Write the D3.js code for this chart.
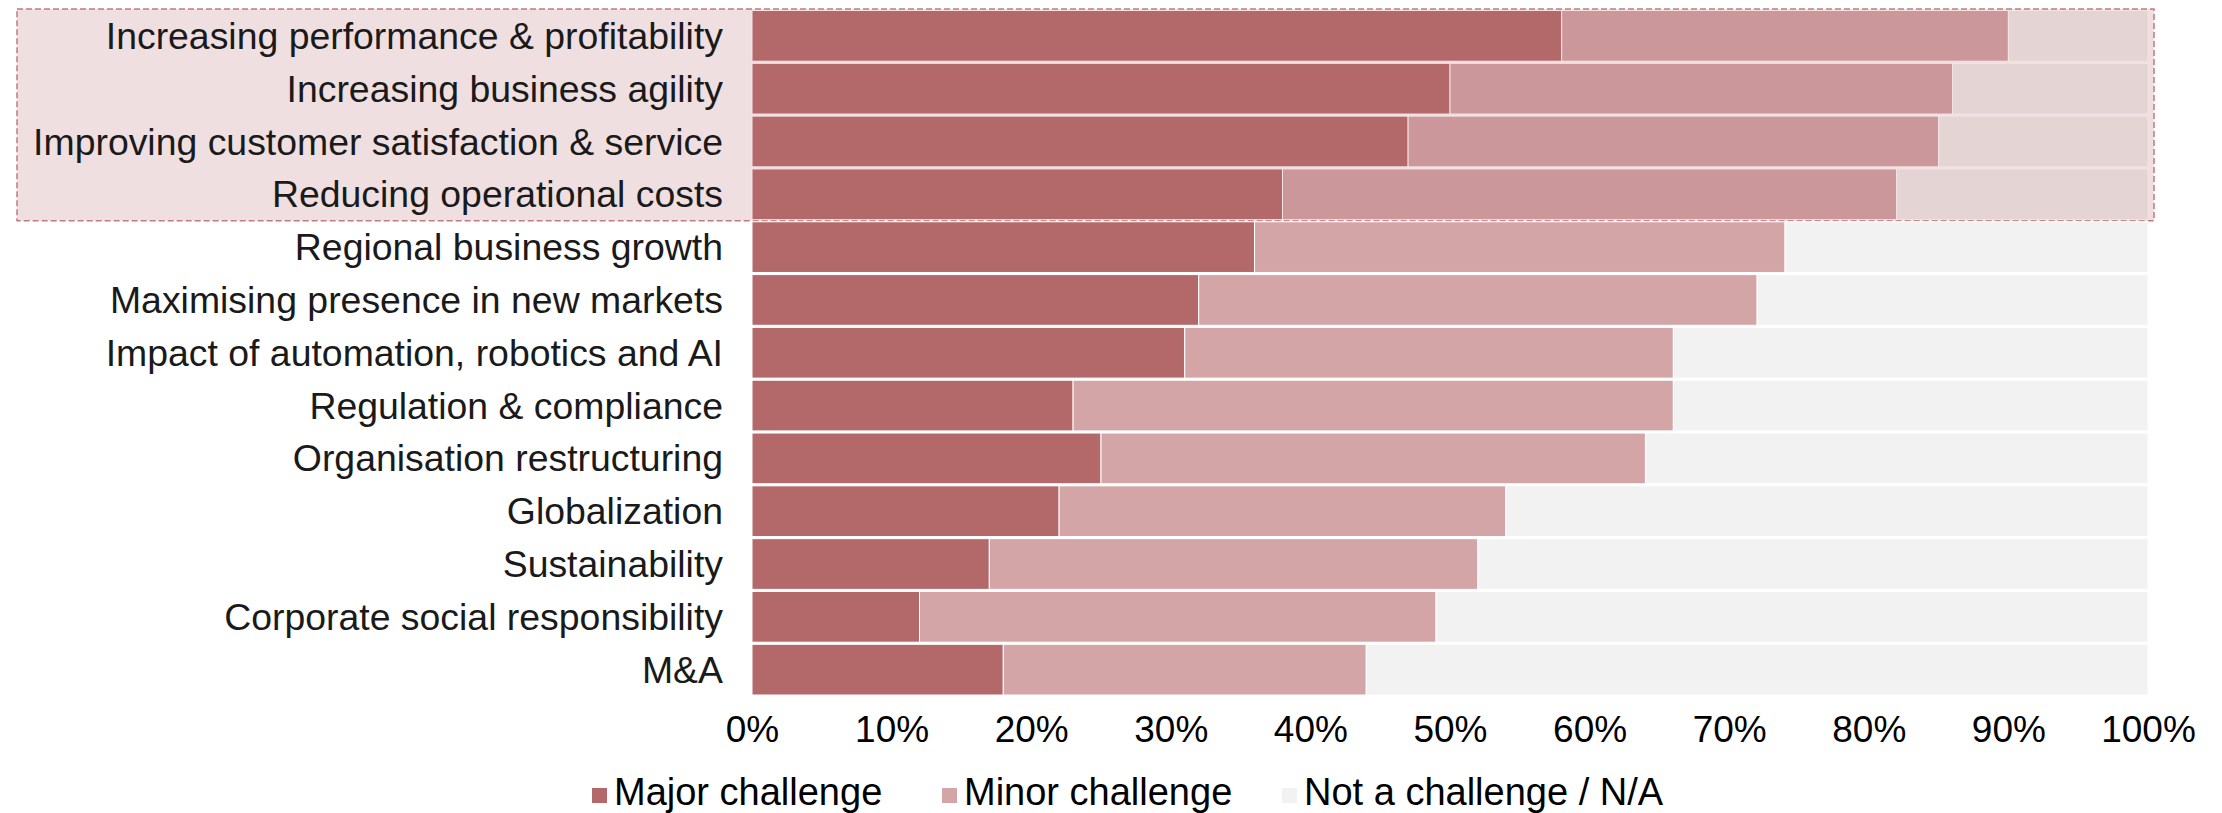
<html>
<script src="https://d3js.org/d3.v7.min.js"></script>
<style>
    body { margin: 0; background: #fff; font-family: 'Liberation Sans', Arial, sans-serif; }
</style>
<body>
<svg id="chart" width="2222" height="813"></svg>
<script>
    // chart values (percent of respondents)
    const categories = [
        "Increasing performance & profitability",
        "Increasing business agility",
        "Improving customer satisfaction & service",
        "Reducing operational costs",
        "Regional business growth",
        "Maximising presence in new markets",
        "Impact of automation, robotics and AI",
        "Regulation & compliance",
        "Organisation restructuring",
        "Globalization",
        "Sustainability",
        "Corporate social responsibility",
        "M&A"
    ];
    const majorChallenge = [58, 50, 47, 38, 36, 32, 31, 23, 25, 22, 17, 12, 18];
    const minorChallenge = [32, 36, 38, 44, 38, 40, 35, 43, 39, 32, 35, 37, 26];
    const notChallenge   = [10, 14, 15, 18, 26, 28, 34, 34, 36, 46, 48, 51, 56];
    const seriesNames = ["Major challenge", "Minor challenge", "Not a challenge / N/A"];
    const xTicks = [0, 10, 20, 30, 40, 50, 60, 70, 80, 90, 100];
    const highlighted = 4; // first four rows sit in the shaded box

    const colors   = ["#b3696a", "#d4a5a7", "#f2f2f2"];
    const hiColors = ["#b3696a", "#cc979a", "#e4d4d4"];

    const svg = d3.select("svg#chart");

    const xScale = d3.scaleLinear().domain([0, 100]).range([752, 2148]);
    const yScale = d3.scaleBand().domain(categories).range([10.5, 695]).paddingInner(0.04);

    // shaded box behind the top rows
    const boxBottom = yScale(categories[highlighted - 1]) + yScale.bandwidth() + 1;
    svg.append("rect")
        .attr("x", 17)
        .attr("y", 9)
        .attr("width", 2154 - 17)
        .attr("height", boxBottom - 9)
        .attr("fill", "#f0dfe0")
        .attr("stroke", "#c27a7e")
        .attr("stroke-width", 1.5)
        .attr("stroke-dasharray", "6,3");

    // build stacked rows
    const rows = categories.map((c, i) => ({
        category: c,
        idx: i,
        values: [majorChallenge[i], minorChallenge[i], notChallenge[i]]
    }));

    const segs = [];
    rows.forEach(r => {
        let start = 0;
        r.values.forEach((v, k) => {
            segs.push({category: r.category, idx: r.idx, series: k, x0: start, x1: start + v});
            start += v;
        });
    });

    svg.append("g").selectAll("rect")
        .data(segs)
        .enter()
        .append("rect")
        .attr("x", d => xScale(d.x0))
        .attr("y", d => yScale(d.category))
        .attr("width", d => xScale(d.x1) - xScale(d.x0))
        .attr("height", yScale.bandwidth())
        .attr("fill", d => d.idx < highlighted ? hiColors[d.series] : colors[d.series])
        .attr("stroke", d => d.idx < highlighted ? "#f3e4e4" : "#fff")
        .attr("stroke-width", 1);

    // category labels
    svg.append("g").selectAll("text")
        .data(categories)
        .enter()
        .append("text")
        .attr("x", 723)
        .attr("y", d => yScale(d) + yScale.bandwidth() / 2)
        .attr("dy", "0.35em")
        .attr("text-anchor", "end")
        .attr("font-size", 37.4)
        .attr("fill", "#1a1a1a")
        .text(d => d);

    // x axis, labels only
    const xAxis = d3.axisBottom(xScale)
        .tickValues(xTicks)
        .tickSize(0)
        .tickPadding(0)
        .tickFormat(d => d + "%");

    const axisG = svg.append("g")
        .attr("transform", "translate(0,716)")
        .call(xAxis);
    axisG.select(".domain").remove();
    axisG.selectAll("text")
        .attr("dy", "0.71em")
        .attr("font-size", 37)
        .attr("font-family", "'Liberation Sans', Arial, sans-serif")
        .attr("fill", "#000");

    // legend
    const legendX = [592, 942, 1282];
    const legend = svg.append("g").selectAll("g")
        .data(seriesNames)
        .enter()
        .append("g")
        .attr("transform", (d, i) => "translate(" + legendX[i] + ",0)");

    legend.append("rect")
        .attr("x", 0)
        .attr("y", 788)
        .attr("width", 15)
        .attr("height", 15)
        .attr("fill", (d, i) => colors[i]);

    legend.append("text")
        .attr("x", 22)
        .attr("y", 805)
        .attr("font-size", 38)
        .attr("fill", "#000")
        .text(d => d);
</script>
</body>
</html>
